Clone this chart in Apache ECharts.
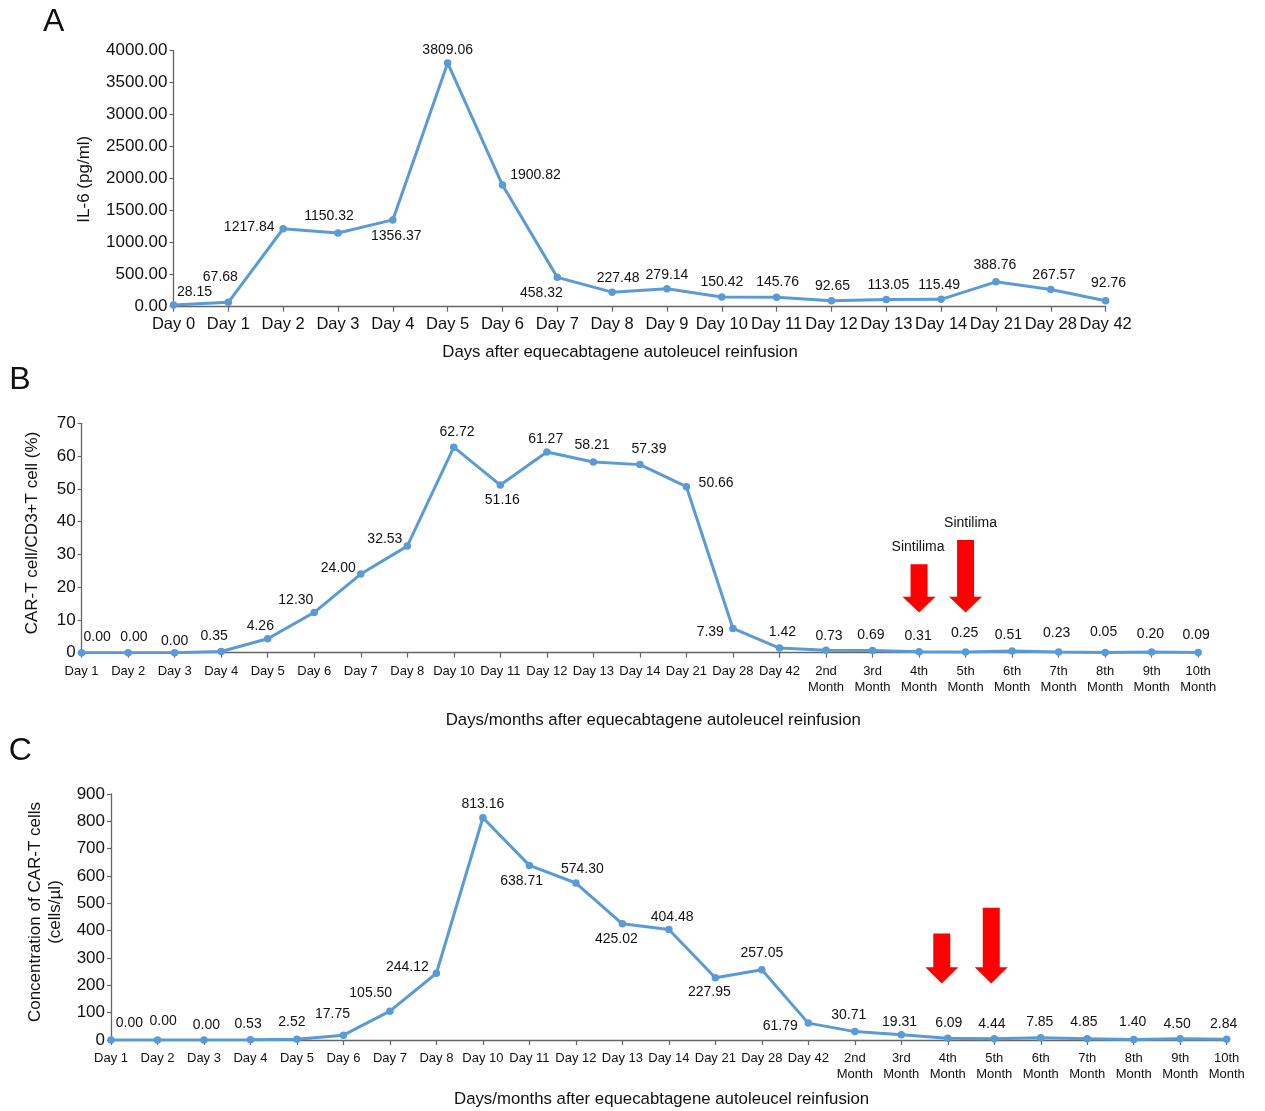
<!DOCTYPE html>
<html><head><meta charset="utf-8">
<script src="https://cdn.jsdelivr.net/npm/echarts@6/dist/echarts.min.js"></script>
<style>html,body{margin:0;padding:0;background:#fff}#c{width:1265px;height:1111px}</style>
</head><body><div id="c"></div>
<script>
// ---------- DATA ----------
const daysA = ['Day 0','Day 1','Day 2','Day 3','Day 4','Day 5','Day 6','Day 7','Day 8','Day 9','Day 10','Day 11','Day 12','Day 13','Day 14','Day 21','Day 28','Day 42'];
const il6 = [28.15, 67.68, 1217.84, 1150.32, 1356.37, 3809.06, 1900.82, 458.32, 227.48, 279.14, 150.42, 145.76, 92.65, 113.05, 115.49, 388.76, 267.57, 92.76];
const daysBC = ['Day 1','Day 2','Day 3','Day 4','Day 5','Day 6','Day 7','Day 8','Day 10','Day 11','Day 12','Day 13','Day 14','Day 21','Day 28','Day 42',
  '2nd\nMonth','3rd\nMonth','4th\nMonth','5th\nMonth','6th\nMonth','7th\nMonth','8th\nMonth','9th\nMonth','10th\nMonth'];
const carPct = [0.00, 0.00, 0.00, 0.35, 4.26, 12.30, 24.00, 32.53, 62.72, 51.16, 61.27, 58.21, 57.39, 50.66, 7.39, 1.42, 0.73, 0.69, 0.31, 0.25, 0.51, 0.23, 0.05, 0.20, 0.09];
const carConc = [0.00, 0.00, 0.00, 0.53, 2.52, 17.75, 105.50, 244.12, 813.16, 638.71, 574.30, 425.02, 404.48, 227.95, 257.05, 61.79, 30.71, 19.31, 6.09, 4.44, 7.85, 4.85, 1.40, 4.50, 2.84];
const axisA = {max: 4000, step: 500};
const axisB = {max: 70, step: 10};
const axisC = {max: 900, step: 100};
const drugLabel = 'Sintilima';
const drugMonths = ['4th\nMonth', '5th\nMonth'];

// ---------- STYLE (label offsets in px, relative to the point) ----------
const offA = [[21,-13],[-8,-25],[-34,-1.5],[-9,-17],[3.5,16.7],[0,-13],[33,-10],[-16,15.6],[6,-14],[0,-14],[0,-14.7],[1,-15],[1,-14.3],[2,-14],[-2,-13.7],[-1,-17],[3,-14.4],[3,-18]];
const offB = [[15.5,-16],[5.7,-16],[0,-12],[-7,-15.5],[-7.4,-12.6],[-18.4,-12.3],[-22.4,-6],[-22.4,-7.4],[3.2,-15],[2,14.7],[-1.2,-12.7],[-1.3,-16.3],[9,-15.6],[29.7,-3.3],[-22.7,4],[3,-15.7],[3,-14],[-1.7,-15.7],[-1,-16],[-1,-18.7],[-3.7,-16],[-2,-18.7],[-1.6,-20],[-1.2,-17.7],[-2,-17.7]];
const offC = [[18.4,-16.7],[5.7,-19],[2.4,-14.7],[-2.4,-16],[-5,-17],[-11,-21],[-19.2,-18],[-29,-6],[0,-13.4],[-7.8,15.4],[6.5,-14.3],[-6,15.6],[3.3,-12.3],[-6,14],[0,-16.4],[-28,2.7],[-6,-16.3],[-1.7,-12.3],[1,-14.7],[-2.4,-14.3],[-1,-15.4],[-3.3,-16.3],[-1,-17],[-3,-14.3],[-3,-15]];
// arrows: y levels in data units, dx in px
const arrowsB = [{top:27.0, head:17.1, tip:12.3, dx:0, text:32.3, tdx:-1}, {top:34.4, head:17.1, tip:12.3, dx:0, text:39.5, tdx:5}];
const arrowsC = [{top:390, head:266, tip:207, dx:-6}, {top:484, head:266, tip:207, dx:-3}];

const FONT = '"Liberation Sans", Arial, Helvetica, sans-serif';
const BLUE = '#5b9bd5';
const AX = '#666666';
const TXT = '#111111';

const chart = echarts.init(document.getElementById('c'));

function series(idx, vals, offs, dec) {
  return {
    type: 'line', xAxisIndex: idx, yAxisIndex: idx,
    data: vals.map((v, i) => ({value: v, label: {offset: offs[i]}})),
    symbol: 'circle', symbolSize: 7.5,
    lineStyle: {color: BLUE, width: 3},
    itemStyle: {color: BLUE},
    label: {show: true, position: 'inside', fontFamily: FONT, fontSize: 14, color: TXT,
      textBorderWidth: 0, formatter: p => Number(p.value).toFixed(dec)},
    emphasis: {disabled: true},
    animation: false, z: 3
  };
}
function xAx(idx, data, fs, margin, lh) {
  return {
    type: 'category', gridIndex: idx, data: data, boundaryGap: false,
    axisLine: {show: true, lineStyle: {color: AX, width: 1.3}},
    axisTick: {show: true, interval: 0, length: 5, lineStyle: {color: AX, width: 1.2}},
    axisLabel: {interval: 0, fontFamily: FONT, fontSize: fs, color: TXT, margin: margin, lineHeight: lh},
    splitLine: {show: false}
  };
}
function yAx(idx, cfg, dec) {
  return {
    type: 'value', gridIndex: idx, min: 0, max: cfg.max, interval: cfg.step,
    axisLine: {show: true, lineStyle: {color: AX, width: 1.3}},
    axisTick: {show: true, length: 4, lineStyle: {color: AX, width: 1.2}},
    axisLabel: {fontFamily: FONT, fontSize: 17, color: TXT, margin: 6, formatter: v => v.toFixed(dec)},
    splitLine: {show: false}
  };
}

chart.setOption({
  backgroundColor: '#fff',
  animation: false,
  grid: [
    {left: 173.5, right: 159.4, top: 50.7, height: 256},
    {left: 81.6, right: 66.8, top: 423.3, height: 229.4},
    {left: 111, right: 38.3, top: 794, height: 246}
  ],
  xAxis: [xAx(0, daysA, 16.5, 8.5, 18), xAx(1, daysBC, 13, 11, 16), xAx(2, daysBC, 13, 10, 16.5)],
  yAxis: [yAx(0, axisA, 2), yAx(1, axisB, 0), yAx(2, axisC, 0)],
  series: [series(0, il6, offA, 2), series(1, carPct, offB, 2), series(2, carConc, offC, 2)]
});

function txt(x, y, s, fs, rot, lh) {
  const st = {text: s, fontFamily: FONT, fontSize: fs, fill: TXT, align: 'center', verticalAlign: 'middle'};
  if (lh) st.lineHeight = lh;
  return {type: 'text', x: x, y: y, rotation: rot || 0, silent: true, style: st};
}
function arrow(idx, cat, a) {
  const ci = daysBC.indexOf(cat);
  const px = v => chart.convertToPixel({xAxisIndex: idx, yAxisIndex: idx}, [ci, v]);
  const x = px(0)[0] + a.dx;
  const yT = px(a.top)[1], yH = px(a.head)[1], yP = px(a.tip)[1];
  return {type: 'polygon', silent: true, z: 10,
    shape: {points: [[x-8.5, yT], [x+8.5, yT], [x+8.5, yH], [x+16.5, yH], [x, yP], [x-16.5, yH], [x-8.5, yH]]},
    style: {fill: '#ff0000'}};
}
const g = [
  txt(53.7, 21.7, 'A', 32),
  txt(19.8, 380.5, 'B', 32),
  txt(20.4, 751, 'C', 32),
  txt(84.5, 179.2, 'IL-6 (pg/ml)', 17, Math.PI/2),
  txt(32.6, 533, 'CAR-T cell/CD3+T cell (%)', 17, Math.PI/2),
  txt(45.4, 912, 'Concentration of CAR-T cells\n(cells/µl)', 17, Math.PI/2, 19.5),
  txt(620, 352.7, 'Days after equecabtagene autoleucel reinfusion', 16.8),
  txt(653.3, 720, 'Days/months after equecabtagene autoleucel reinfusion', 16.8),
  txt(661.6, 1099.3, 'Days/months after equecabtagene autoleucel reinfusion', 16.8)
];
drugMonths.forEach((m, k) => {
  g.push(arrow(1, m, arrowsB[k]));
  g.push(arrow(2, m, arrowsC[k]));
  const ci = daysBC.indexOf(m);
  const p = chart.convertToPixel({xAxisIndex: 1, yAxisIndex: 1}, [ci, arrowsB[k].text]);
  g.push(txt(p[0] + arrowsB[k].tdx, p[1], drugLabel, 14));
});
chart.setOption({graphic: g});
</script></body></html>
